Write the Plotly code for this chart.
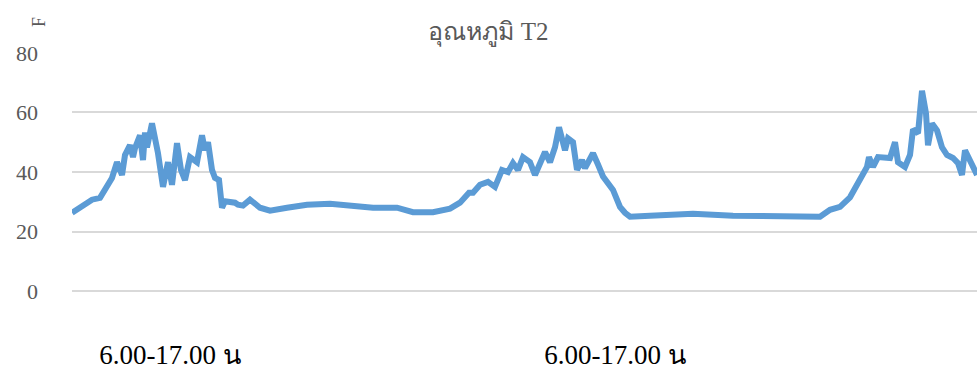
import plotly.graph_objects as go

# Reading number (sequential logger samples) and temperature T2
reading = [0, 11, 20, 28, 33, 36, 40, 45, 50, 53, 58, 61, 63, 68, 71, 73, 75, 80, 83, 86,
           91, 96, 100, 105, 109, 113, 118, 125, 130, 133, 136, 140, 143, 147, 150, 153,
           163, 166, 171, 178, 188, 198, 215, 235, 258, 281, 301, 325, 341, 361, 378, 388,
           397, 401, 408, 416, 423, 430, 436, 441, 446, 451, 458, 463, 473, 478, 483, 487,
           493, 496, 501, 505, 510, 513, 516, 521, 526, 531, 541, 546, 548, 553, 558, 578,
           621, 661, 715, 741, 748, 758, 768, 778, 785, 791, 795, 797, 801, 806, 818, 823,
           826, 833, 838, 841, 846, 850, 854, 856, 860, 865, 870, 875, 881, 886, 890, 893,
           898, 901, 905]
temp_t2 = [26.3, 29.0, 30.7, 31.3, 34.0, 36.3, 38.0, 43.3, 39.0, 45.7, 49.0, 45.0, 48.0,
           52.3, 44.0, 53.3, 48.3, 56.3, 52.3, 46.3, 35.0, 43.3, 35.7, 49.7, 40.7, 37.3,
           45.0, 43.3, 52.3, 47.3, 50.0, 40.7, 38.0, 37.3, 28.0, 30.2, 29.7, 29.0, 28.7,
           30.7, 28.0, 27.0, 28.0, 29.0, 29.3, 28.7, 28.0, 28.0, 26.5, 26.5, 27.7, 29.7,
           33.0, 33.0, 35.7, 36.7, 35.0, 40.7, 40.0, 43.0, 40.7, 45.0, 43.3, 39.0, 46.7,
           43.3, 48.3, 55.0, 47.3, 51.3, 50.0, 40.7, 44.0, 41.3, 43.3, 46.3, 42.5, 38.5,
           34.0, 29.7, 28.3, 26.3, 25.0, 25.3, 26.0, 25.3, 25.3, 25.0, 25.0, 27.3, 28.3,
           31.5, 35.7, 39.0, 41.7, 45.0, 41.7, 45.0, 44.7, 50.0, 43.3, 41.7, 45.7, 54.3,
           53.0, 67.3, 59.7, 49.0, 56.3, 54.0, 48.3, 45.7, 44.7, 43.0, 39.0, 47.3, 44.0,
           42.3, 39.0]

# Daytime period labels on the category axis
period_pos = [98, 543]
period_text = ["6.00-17.00 น", "6.00-17.00 น"]

y_ticks = [0, 20, 40, 60, 80]

serif = "Liberation Serif"
grey = "#595959"
grid = "#D9D9D9"

fig = go.Figure()
fig.add_trace(go.Scatter(
    x=reading, y=temp_t2, mode="lines",
    line=dict(color="#5B9BD5", width=6),
    hoverinfo="skip", showlegend=False,
))

fig.update_layout(
    width=977, height=369,
    margin=dict(l=72, r=0, t=52, b=77),
    paper_bgcolor="white", plot_bgcolor="white",
    title=dict(text="อุณหภูมิ T2", x=0.5, xref="container", xanchor="center",
               y=0.915, yref="container", yanchor="middle",
               font=dict(family=serif, size=25, color=grey)),
    xaxis=dict(range=[0, 905], showgrid=False, zeroline=False, showline=False,
               tickmode="array", tickvals=period_pos, ticktext=period_text,
               ticks="", ticklabelstandoff=44,
               tickfont=dict(family=serif, size=27, color="#000000")),
    yaxis=dict(range=[-0.3, 80.3], tickmode="array", tickvals=y_ticks,
               showgrid=True, gridcolor=grid, gridwidth=1.5,
               zeroline=True, zerolinecolor=grid, zerolinewidth=1.5,
               showline=False, ticks="", ticklabelstandoff=33,
               tickfont=dict(family=serif, size=22, color=grey)),
    annotations=[dict(text="F", textangle=-90, xref="x domain", yref="y domain",
                      x=-45 / 905, y=1 + 37 / 240, showarrow=False,
                      font=dict(family=serif, size=18, color=grey))],
)

fig.write_html("out.html")
